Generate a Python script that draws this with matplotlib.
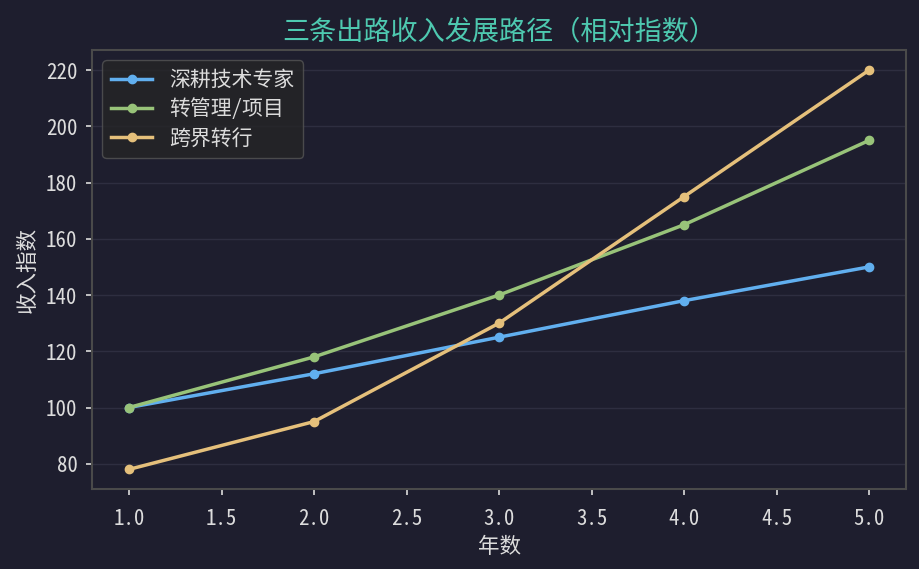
import matplotlib
matplotlib.use("Agg")
import matplotlib.pyplot as plt

plt.rcParams['font.family'] = ['Noto Sans Mono CJK SC', 'Noto Sans CJK SC', 'DejaVu Sans']

years = [1, 2, 3, 4, 5]
expert = [100, 112, 125, 138, 150]
manager = [100, 118, 140, 165, 195]
crossover = [78, 95, 130, 175, 220]
names = ["深耕技术专家", "转管理/项目", "跨界转行"]
colors = ["#61afef", "#98c379", "#e5c07b"]

bg = "#1e1e2e"
txt = "#dcdcdc"

fig, ax = plt.subplots(figsize=(9.2, 5.69), dpi=100)
fig.patch.set_facecolor(bg)
ax.set_facecolor(bg)

for ys, name, c in zip([expert, manager, crossover], names, colors):
    ax.plot(years, ys, marker='o', markersize=6, linewidth=2.5, color=c, label=name)

ax.set_title("三条出路收入发展路径（相对指数）", color="#4ec9b0", fontsize=19.5, pad=8)
ax.set_xlabel("年数", color=txt, fontsize=15.5, labelpad=4)
ax.set_ylabel("收入指数", color=txt, fontsize=15.5, labelpad=5)
ax.set_xticks([1.0, 1.5, 2.0, 2.5, 3.0, 3.5, 4.0, 4.5, 5.0])
ax.tick_params(colors=txt, labelsize=15, length=4.5, width=1.2)
ax.tick_params(axis='x', pad=9)
ax.tick_params(axis='y', pad=6)
ax.grid(axis='y', color="#2e2e40", linewidth=1)
ax.set_axisbelow(True)
for s in ax.spines.values():
    s.set_color("#4a4a4a")
    s.set_linewidth(1.5)

leg = ax.legend(loc='upper left', fontsize=15, facecolor="#252526", edgecolor="#555555",
                labelcolor=txt, borderaxespad=0.5, labelspacing=0.35)

fig.subplots_adjust(left=0.1, right=0.985, top=0.912, bottom=0.14)
fig.savefig("out.png", facecolor=bg)
